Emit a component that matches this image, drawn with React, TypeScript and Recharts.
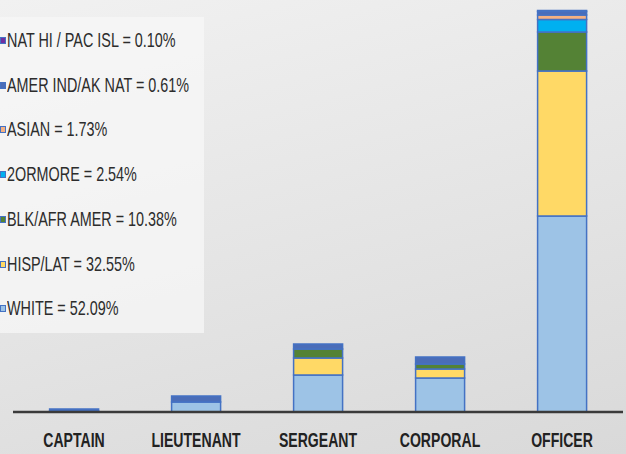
import React from "react";
import { Bar, BarChart, XAxis, YAxis } from "recharts";

// ranks along the x axis
const categories = ["CAPTAIN", "LIEUTENANT", "SERGEANT", "CORPORAL", "OFFICER"];

// stacked values per rank (bottom to top)
const white = [1, 10, 37, 34, 196];
const hispLat = [0, 0, 17, 9, 145];
const blkAfr = [0, 0, 9, 5, 39];
const twoOrMore = [0, 0, 0, 0, 12.5];
const asian = [0, 0, 0, 0, 4.5];
const amerInd = [2, 6, 5, 7, 3.5];
const natHi = [0, 0, 0, 0, 1];

// legend labels + overall shares
const seriesKeys = ["white", "hispLat", "blkAfr", "twoOrMore", "asian", "amerInd", "natHi"];
const seriesLabels = ["WHITE", "HISP/LAT", "BLK/AFR AMER", "2ORMORE", "ASIAN", "AMER IND/AK NAT", "NAT HI / PAC ISL"];
const seriesShares = ["52.09%", "32.55%", "10.38%", "2.54%", "1.73%", "0.61%", "0.10%"];
const seriesColors = ["#9DC3E6", "#FFD966", "#548235", "#00B0F0", "#F4B183", "#4A6DB8", "#7030A0"];

const seriesValues = [white, hispLat, blkAfr, twoOrMore, asian, amerInd, natHi];

const data = categories.map((rank, i) => {
  const row: Record<string, string | number> = { rank };
  seriesKeys.forEach((k, s) => {
    row[k] = seriesValues[s][i];
  });
  return row;
});

const BORDER = "#4472C4";

function RankTick({ x, y, payload }: { x: number; y: number; payload: { value: string } }) {
  return (
    <g transform={`translate(${x},${y})`}>
      <text
        x={0}
        y={0}
        dy={27}
        transform="scale(0.67,1)"
        textAnchor="middle"
        fontFamily="'Liberation Sans', Arial, sans-serif"
        fontWeight={700}
        fontSize={21}
        fill="#222"
      >
        {payload.value}
      </text>
    </g>
  );
}

function LegendPanel() {
  const order = seriesKeys.map((_, i) => i).reverse();
  return (
    <div
      style={{
        position: "absolute",
        left: 0,
        top: 17,
        width: 204,
        height: 316,
        background: "rgba(247,247,247,0.75)",
      }}
    >
      {order.map((s, row) => (
        <div
          key={seriesKeys[s]}
          style={{
            position: "absolute",
            left: 0,
            top: 23 + row * 44.7 - 12,
            height: 24,
            lineHeight: "24px",
            whiteSpace: "nowrap",
          }}
        >
          <span
            style={{
              position: "absolute",
              left: 0,
              top: 9,
              width: 4,
              height: 5,
              background: seriesColors[s],
              border: `1px solid ${BORDER}`,
            }}
          />
          <span
            style={{
              position: "absolute",
              left: 7,
              top: 0,
              fontFamily: "'Liberation Sans', Arial, sans-serif",
              fontSize: 21,
              color: "#2c2c2c",
              transform: "scaleX(0.685)",
              transformOrigin: "left center",
            }}
          >
            {`${seriesLabels[s]} = ${seriesShares[s]}`}
          </span>
        </div>
      ))}
    </div>
  );
}

export default function App() {
  return (
    <div
      style={{
        position: "absolute",
        left: 0,
        top: 0,
        width: 626,
        height: 454,
        overflow: "hidden",
        background: "linear-gradient(165deg, #f1f1f1 0%, #e4e4e4 55%, #d9d9d9 100%)",
      }}
    >
      <BarChart
        width={626}
        height={454}
        data={data}
        margin={{ top: 10, right: 3, bottom: 0, left: 13 }}
        barCategoryGap="30%"
      >
        <YAxis hide domain={[0, 402]} />
        <XAxis
          dataKey="rank"
          height={42}
          tickLine={false}
          axisLine={{ stroke: "#3a3a3a", strokeWidth: 2.5 }}
          tick={RankTick}
          interval={0}
        />
        {seriesKeys.map((k, s) => (
          <Bar
            key={k}
            dataKey={k}
            stackId="rank"
            fill={seriesColors[s]}
            stroke={BORDER}
            strokeWidth={1.5}
            isAnimationActive={false}
          />
        ))}
      </BarChart>
      <LegendPanel />
    </div>
  );
}
